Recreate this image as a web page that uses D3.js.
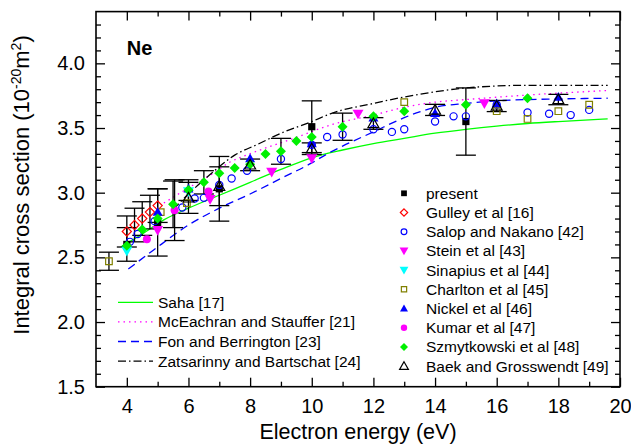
<!DOCTYPE html>
<html>
<head>
<meta charset="utf-8">
<script src="https://cdn.jsdelivr.net/npm/d3@7"></script>
<style>
  body { margin: 0; background: #fff; }
  svg { font-family: "Liberation Sans", Arial, sans-serif; }
</style>
</head>
<body>
<div id="chart"></div>
<script>
// theory curves: [energy eV, cross section 1e-20 m^2]
const saha = [[3.8,2.58],[4.5,2.68],[5.2,2.79],[6,2.88],[7,2.98],[8,3.08],[9,3.18],[10,3.27],[11,3.33],[12,3.38],[13,3.42],[14,3.46],[15,3.49],[16,3.515],[17,3.535],[18,3.55],[19.6,3.57]];
const mceachran = [[5.2,2.92],[6.3,3.08],[6.8,3.15],[7.3,3.23],[8.1,3.31],[9.3,3.41],[10.7,3.53],[12,3.60],[13,3.66],[14,3.70],[15,3.72],[17,3.755],[19.6,3.79]];
const fon = [[4.05,2.41],[4.86,2.555],[6,2.75],[7,2.88],[8,2.99],[9,3.11],[10,3.23],[10.5,3.30],[11,3.36],[12,3.47],[13,3.58],[13.5,3.625],[14,3.66],[15,3.69],[16,3.71],[18,3.725],[19.6,3.73]];
const zatsarinny = [[5.5,2.87],[6,2.99],[6.6,3.12],[7.5,3.29],[8.3,3.38],[9,3.46],[10,3.55],[10.6,3.61],[12,3.69],[13,3.74],[14,3.78],[15,3.81],[17,3.83],[19.6,3.83]];

// measurements: [energy, value, error]
const present = [[4,2.60,0.13],[5,2.77,0.26],[7,3.03,0.25],[10,3.51,0.2],[15,3.55,0.26]];
const gulley = [[4,2.70,0.12],[4.25,2.75,0.13],[4.5,2.80,0.13],[4.75,2.85,0.13],[5,2.90,0.13]];
const salop = [[4,2.58],[4.1,2.62],[4.35,2.68],[4.9,2.78],[5.8,2.885],[6.2,2.955],[6.5,2.96],[7,3.06],[7.4,3.11],[7.9,3.17],[9,3.26],[10,3.37],[10.5,3.43],[11,3.45],[12,3.49],[12.6,3.47],[13,3.49],[14,3.55],[14.6,3.59],[15,3.59],[16,3.68],[17,3.62],[17.7,3.61],[18.4,3.60],[19,3.64]];
const stein = [[5,2.71],[6.7,2.95],[8.7,3.16],[10,3.265],[11.5,3.61],[15.6,3.69]];
const sinapius = [[4,2.55],[6,3.01]];
const charlton = [[3.42,2.47,0.07],[5.1,2.85],[5.95,2.92],[13,3.70],[16,3.63],[17,3.57],[18,3.63],[19,3.68]];
const nickel = [[5,2.85],[6,3.03],[8,3.265],[10,3.38],[12,3.58],[14,3.615],[16,3.69],[18,3.74]];
const kumar = [[4.65,2.64],[5.55,2.865,0.235],[6.65,3.01]];
const szmytkowski = [[4,2.59,0],[4.5,2.715,0],[5,2.80,0],[5.5,2.91,0.18],[6,3.02,0.08],[6.5,3.08,0.09],[7,3.15,0],[7.5,3.19,0],[8,3.22,0],[8.5,3.30,0],[9,3.32,0.1],[9.5,3.40,0],[10,3.43,0],[11,3.51,0.105],[12,3.59,0],[13,3.63,0],[15,3.68,0],[17,3.73,0]];
const baek = [[6,2.96,0.12],[7,3.05,0.15],[8,3.215,0.045],[10,3.34,0.045],[12,3.535,0.045],[14,3.64,0.043],[16,3.67,0.043],[18,3.72,0.04]];

const xMajor = [4,6,8,10,12,14,16,18,20];
const xMinor = [5,7,9,11,13,15,17,19];
const yMajor = [1.5,2.0,2.5,3.0,3.5,4.0];
const yMinor = d3.range(16, 44).map(d => d / 10).filter(d => Math.round(d * 10) % 5 !== 0);

const width = 631, height = 444;
const plot = { left: 96, right: 620, top: 11.6, bottom: 386.7 };

const svg = d3.select("#chart").append("svg")
    .attr("width", width)
    .attr("height", height);

const x = d3.scaleLinear().domain([3, 20]).range([plot.left, plot.right]);
const y = d3.scaleLinear().domain([1.5, 4.4]).range([plot.bottom, plot.top]);

// marker shapes, s = half size
function shape(type, s) {
    switch (type) {
        case "square": return `M${-s},${-s}H${s}V${s}H${-s}Z`;
        case "diamond": return `M0,${-s}L${s},0L0,${s}L${-s},0Z`;
        case "up": return `M0,${-s}L${s},${s * 0.75}L${-s},${s * 0.75}Z`;
        case "down": return `M0,${s}L${s},${-s * 0.75}L${-s},${-s * 0.75}Z`;
        case "circle": return `M${s},0A${s},${s} 0 1,1 ${-s},0A${s},${s} 0 1,1 ${s},0Z`;
    }
}

const series = [
    { name: "present", data: present, type: "square", size: 3.6, fill: "#000", stroke: "none" },
    { name: "Gulley et al [16]", data: gulley, type: "diamond", size: 4.6, fill: "none", stroke: "#ff0000" },
    { name: "Salop and Nakano [42]", data: salop, type: "circle", size: 3.6, fill: "none", stroke: "#0000ff" },
    { name: "Stein et al [43]", data: stein, type: "down", size: 5.5, fill: "#ff00ff", stroke: "none" },
    { name: "Sinapius et al [44]", data: sinapius, type: "down", size: 5.5, fill: "#00ffff", stroke: "none" },
    { name: "Charlton et al [45]", data: charlton, type: "square", size: 3.3, fill: "none", stroke: "#808000" },
    { name: "Nickel et al [46]", data: nickel, type: "up", size: 5, fill: "#0000ff", stroke: "none" },
    { name: "Kumar et al [47]", data: kumar, type: "circle", size: 4, fill: "#ff00ff", stroke: "none" },
    { name: "Szmytkowski et al [48]", data: szmytkowski, type: "diamond", size: 5, fill: "#00f000", stroke: "none" },
    { name: "Baek and Grosswendt [49]", data: baek, type: "up", size: 5.5, fill: "none", stroke: "#000" }
];

const curves = [
    { name: "Saha [17]", data: saha, color: "#00ff00", dash: null },
    { name: "McEachran and Stauffer [21]", data: mceachran, color: "#ff00ff", dash: "1.5,4" },
    { name: "Fon and Berrington [23]", data: fon, color: "#0000ff", dash: "8,5" },
    { name: "Zatsarinny and Bartschat [24]", data: zatsarinny, color: "#000", dash: "8,3,1.5,3" }
];

// axes, ticks pointing inward on all four sides
const gx = svg.append("g").attr("transform", `translate(0,${plot.bottom})`);
gx.call(d3.axisBottom(x).tickValues(xMajor).tickSizeInner(-9).tickSizeOuter(0).tickPadding(12).tickFormat(d3.format("d")));
gx.append("g").call(d3.axisBottom(x).tickValues(xMinor).tickSizeInner(-5).tickSizeOuter(0).tickFormat(""));

const gxt = svg.append("g").attr("transform", `translate(0,${plot.top})`);
gxt.call(d3.axisTop(x).tickValues(xMajor).tickSizeInner(-9).tickSizeOuter(0).tickFormat(""));
gxt.append("g").call(d3.axisTop(x).tickValues(xMinor).tickSizeInner(-5).tickSizeOuter(0).tickFormat(""));

const gy = svg.append("g").attr("transform", `translate(${plot.left},0)`);
gy.call(d3.axisLeft(y).tickValues(yMajor).tickSizeInner(-9).tickSizeOuter(0).tickPadding(11).tickFormat(d3.format(".1f")));
gy.append("g").call(d3.axisLeft(y).tickValues(yMinor).tickSizeInner(-5).tickSizeOuter(0).tickFormat(""));

const gyr = svg.append("g").attr("transform", `translate(${plot.right},0)`);
gyr.call(d3.axisRight(y).tickValues(yMajor).tickSizeInner(-9).tickSizeOuter(0).tickFormat(""));
gyr.append("g").call(d3.axisRight(y).tickValues(yMinor).tickSizeInner(-5).tickSizeOuter(0).tickFormat(""));

svg.selectAll(".tick line").attr("stroke", "#000").attr("stroke-width", 1.3);
svg.selectAll(".domain").remove();
svg.selectAll(".tick text").attr("font-size", 20).attr("fill", "#000").attr("font-family", "Liberation Sans, Arial, sans-serif");

svg.append("rect")
    .attr("x", plot.left).attr("y", plot.top)
    .attr("width", plot.right - plot.left).attr("height", plot.bottom - plot.top)
    .attr("fill", "none").attr("stroke", "#000").attr("stroke-width", 1.6);

// theory curves
const lineGen = d3.line().x(d => x(d[0])).y(d => y(d[1])).curve(d3.curveMonotoneX);
svg.append("g").selectAll("path")
    .data(curves)
    .join("path")
    .attr("d", d => lineGen(d.data))
    .attr("fill", "none")
    .attr("stroke", d => d.color)
    .attr("stroke-width", 1.3)
    .attr("stroke-dasharray", d => d.dash);

// error bars
const bars = series.flatMap(s => s.data.filter(d => d[2]));
const eb = svg.append("g").attr("stroke", "#000").attr("stroke-width", 1.3);
bars.forEach(d => {
    const cx = x(d[0]), y0 = y(d[1] - d[2]), y1 = y(d[1] + d[2]);
    eb.append("line").attr("x1", cx).attr("x2", cx).attr("y1", y0).attr("y2", y1);
    eb.append("line").attr("x1", cx - 10).attr("x2", cx + 10).attr("y1", y0).attr("y2", y0);
    eb.append("line").attr("x1", cx - 10).attr("x2", cx + 10).attr("y1", y1).attr("y2", y1);
});

// markers
series.forEach(s => {
    svg.append("g").selectAll("path")
        .data(s.data)
        .join("path")
        .attr("transform", d => `translate(${x(d[0])},${y(d[1])})`)
        .attr("d", shape(s.type, s.size))
        .attr("fill", s.fill)
        .attr("stroke", s.stroke)
        .attr("stroke-width", 1.2);
});

// legends
const legL = svg.append("g").attr("font-size", 15.5);
curves.forEach((c, i) => {
    const ly = 302.3 + i * 19.6;
    legL.append("line")
        .attr("x1", 118).attr("x2", 153).attr("y1", ly).attr("y2", ly)
        .attr("stroke", c.color).attr("stroke-width", 1.3).attr("stroke-dasharray", c.dash);
    legL.append("text").attr("x", 158).attr("y", ly + 5.5).text(c.name);
});

const legR = svg.append("g").attr("font-size", 15.5);
series.forEach((s, i) => {
    const ly = 193.3 + i * 19.2;
    legR.append("path")
        .attr("transform", `translate(404,${ly})`)
        .attr("d", shape(s.type, s.size * 0.8))
        .attr("fill", s.fill)
        .attr("stroke", s.stroke)
        .attr("stroke-width", 1.2);
    legR.append("text").attr("x", 426).attr("y", ly + 5.5).text(s.name);
});

// labels
svg.append("text")
    .attr("x", 126.7).attr("y", 55)
    .attr("font-size", 20).attr("font-weight", "bold")
    .text("Ne");

svg.append("text")
    .attr("x", (plot.left + plot.right) / 2).attr("y", 439)
    .attr("text-anchor", "middle").attr("font-size", 21.5)
    .text("Electron energy (eV)");

const yt = svg.append("text")
    .attr("transform", "translate(29,185) rotate(-90)")
    .attr("text-anchor", "middle").attr("font-size", 22);
yt.append("tspan").text("Integral cross section (10");
yt.append("tspan").attr("dy", -8).attr("font-size", 14).text("-20");
yt.append("tspan").attr("dy", 8).text("m");
yt.append("tspan").attr("dy", -8).attr("font-size", 14).text("2");
yt.append("tspan").attr("dy", 8).text(")");
</script>
</body>
</html>
